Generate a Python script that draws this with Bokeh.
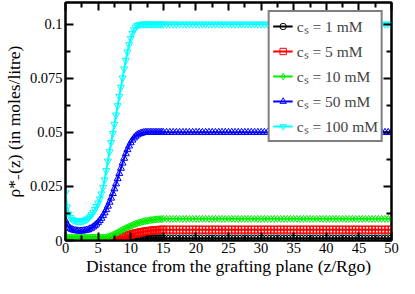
from bokeh.plotting import figure
from bokeh.models import (Range1d, LinearAxis, FixedTicker, NumeralTickFormatter,
                          CustomJSTickFormatter, Legend, LegendItem)
from bokeh.embed import file_html
from bokeh.resources import INLINE

# distance from grafting plane z/R_go: fine steps near the wall, coarser in the bulk
z_near = [0.0, 0.25, 0.5, 0.75, 1.0, 1.25, 1.5, 1.75, 2.0, 2.25, 2.5, 2.75, 3.0, 3.25, 3.5, 3.75,
          4.0, 4.25, 4.5, 4.75, 5.0, 5.25, 5.5, 5.75, 6.0, 6.25, 6.5, 6.75, 7.0, 7.25, 7.5, 7.75,
          8.0, 8.25, 8.5, 8.75, 9.0, 9.25, 9.5, 9.75, 10.0, 10.25, 10.5, 10.75, 11.0, 11.25, 11.5, 11.75,
          12.0, 12.25, 12.5, 12.75, 13.0, 13.25, 13.5, 13.75, 14.0, 14.25, 14.5, 14.75, 15.0]
z_bulk = [15.5, 16.0, 16.5, 17.0, 17.5, 18.0, 18.5, 19.0, 19.5, 20.0, 20.5, 21.0, 21.5, 22.0,
          22.5, 23.0, 23.5, 24.0, 24.5, 25.0, 25.5, 26.0, 26.5, 27.0, 27.5, 28.0, 28.5, 29.0,
          29.5, 30.0, 30.5, 31.0, 31.5, 32.0, 32.5, 33.0, 33.5, 34.0, 34.5, 35.0, 35.5, 36.0,
          36.5, 37.0, 37.5, 38.0, 38.5, 39.0, 39.5, 40.0, 40.5, 41.0, 41.5, 42.0, 42.5, 43.0,
          43.5, 44.0, 44.5, 45.0, 45.5, 46.0, 46.5, 47.0, 47.5, 48.0, 48.5, 49.0, 49.5, 50.0]
z = z_near + z_bulk

# rho*_-(z) in moles/litre, near-wall part (z = 0 ... 15)
rho_1mM_near = [0.0, 0.0, 0.0, 0.0, 0.0, 0.0, 0.0, 0.0, 0.0, 0.0, 0.0, 0.0, 0.0, 0.0, 0.0, 0.0,
                0.0, 0.0, 0.0, 0.0, 0.0, 0.0, 0.0, 0.0, 0.0, 0.0, 0.0, 0.0, 0.0, 0.00005, 0.0001, 0.0001,
                0.0002, 0.0002, 0.0003, 0.0003, 0.0004, 0.0004, 0.0005, 0.0005, 0.0006, 0.0006, 0.0007, 0.0007, 0.0008, 0.0008, 0.0008, 0.0009,
                0.0009, 0.0009, 0.0009, 0.001, 0.001, 0.001, 0.001, 0.001, 0.001, 0.001, 0.001, 0.001, 0.001]
rho_5mM_near = [0.0001, 0.0001, 0.0001, 0.0001, 0.0001, 0.0001, 0.0001, 0.0001, 0.0001, 0.0001, 0.0001, 0.0001, 0.0001, 0.0001, 0.0001, 0.0001,
                0.0001, 0.0001, 0.0001, 0.0001, 0.0001, 0.0001, 0.0001, 0.0001, 0.0001, 0.0001, 0.0002, 0.0003, 0.0004, 0.0005, 0.0007, 0.0009,
                0.0011, 0.0013, 0.0015, 0.0017, 0.0019, 0.0021, 0.0023, 0.0025, 0.0027, 0.0029, 0.0031, 0.0033, 0.0035, 0.0036, 0.0038, 0.0039,
                0.0041, 0.0042, 0.0043, 0.0044, 0.0045, 0.0046, 0.0047, 0.0047, 0.0048, 0.0049, 0.0049, 0.005, 0.005]
rho_10mM_near = [0.0016, 0.0014, 0.0014, 0.0014, 0.0014, 0.0014, 0.0014, 0.0014, 0.0014, 0.0014, 0.0014, 0.0014, 0.0014, 0.0014, 0.0014, 0.0014,
                 0.0014, 0.0014, 0.0014, 0.0014, 0.0014, 0.0014, 0.0014, 0.0014, 0.0014, 0.0015, 0.0017, 0.0019, 0.0022, 0.0025, 0.0029, 0.0033,
                 0.0037, 0.0041, 0.0045, 0.0049, 0.0053, 0.0057, 0.006, 0.0064, 0.0067, 0.007, 0.0074, 0.0077, 0.0079, 0.0082, 0.0084, 0.0086,
                 0.0088, 0.009, 0.0091, 0.0093, 0.0094, 0.0095, 0.0096, 0.0097, 0.0098, 0.0098, 0.0099, 0.0099, 0.01]
rho_50mM_near = [0.0092, 0.0072, 0.0062, 0.0055, 0.0051, 0.0048, 0.0046, 0.0045, 0.0044, 0.0044, 0.0044, 0.0045, 0.0046, 0.0048, 0.005, 0.0054,
                 0.0058, 0.0063, 0.0069, 0.0076, 0.0084, 0.0093, 0.0103, 0.0115, 0.0128, 0.0143, 0.0159, 0.0177, 0.0196, 0.0217, 0.0239, 0.0262,
                 0.0286, 0.031, 0.0334, 0.0358, 0.038, 0.0401, 0.042, 0.0437, 0.0452, 0.0464, 0.0474, 0.0482, 0.0488, 0.0492, 0.0495, 0.0497,
                 0.0499, 0.05, 0.05, 0.05, 0.05, 0.05, 0.05, 0.05, 0.05, 0.05, 0.05, 0.05, 0.05]
rho_100mM_near = [0.022, 0.0155, 0.0122, 0.0106, 0.0098, 0.0094, 0.0091, 0.009, 0.0089, 0.0089, 0.009, 0.0092, 0.0094, 0.0098, 0.0103, 0.011,
                  0.0119, 0.013, 0.0143, 0.0157, 0.0173, 0.0192, 0.0215, 0.0245, 0.028, 0.0323, 0.0367, 0.041, 0.0453, 0.0495, 0.0537, 0.058,
                  0.0623, 0.0666, 0.0708, 0.0751, 0.0793, 0.0833, 0.0871, 0.0905, 0.0934, 0.0957, 0.0974, 0.0986, 0.0993, 0.0997, 0.0999, 0.1,
                  0.1, 0.1, 0.1, 0.1, 0.1, 0.1, 0.1, 0.1, 0.1, 0.1, 0.1, 0.1, 0.1]

# bulk part (z = 15.5 ... 50): flat plateaus
rho_1mM_bulk = [0.001, 0.001, 0.001, 0.001, 0.001, 0.001, 0.001, 0.001, 0.001, 0.001, 0.001, 0.001, 0.001, 0.001,
                0.001, 0.001, 0.001, 0.001, 0.001, 0.001, 0.001, 0.001, 0.001, 0.001, 0.001, 0.001, 0.001, 0.001,
                0.001, 0.001, 0.001, 0.001, 0.001, 0.001, 0.001, 0.001, 0.001, 0.001, 0.001, 0.001, 0.001, 0.001,
                0.001, 0.001, 0.001, 0.001, 0.001, 0.001, 0.001, 0.001, 0.001, 0.001, 0.001, 0.001, 0.001, 0.001,
                0.001, 0.001, 0.001, 0.001, 0.001, 0.001, 0.001, 0.001, 0.001, 0.001, 0.001, 0.001, 0.001, 0.001]
rho_5mM_bulk = [0.005, 0.005, 0.005, 0.005, 0.005, 0.005, 0.005, 0.005, 0.005, 0.005, 0.005, 0.005, 0.005, 0.005,
                0.005, 0.005, 0.005, 0.005, 0.005, 0.005, 0.005, 0.005, 0.005, 0.005, 0.005, 0.005, 0.005, 0.005,
                0.005, 0.005, 0.005, 0.005, 0.005, 0.005, 0.005, 0.005, 0.005, 0.005, 0.005, 0.005, 0.005, 0.005,
                0.005, 0.005, 0.005, 0.005, 0.005, 0.005, 0.005, 0.005, 0.005, 0.005, 0.005, 0.005, 0.005, 0.005,
                0.005, 0.005, 0.005, 0.005, 0.005, 0.005, 0.005, 0.005, 0.005, 0.005, 0.005, 0.005, 0.005, 0.005]
rho_10mM_bulk = [0.01, 0.01, 0.01, 0.01, 0.01, 0.01, 0.01, 0.01, 0.01, 0.01, 0.01, 0.01, 0.01, 0.01,
                 0.01, 0.01, 0.01, 0.01, 0.01, 0.01, 0.01, 0.01, 0.01, 0.01, 0.01, 0.01, 0.01, 0.01,
                 0.01, 0.01, 0.01, 0.01, 0.01, 0.01, 0.01, 0.01, 0.01, 0.01, 0.01, 0.01, 0.01, 0.01,
                 0.01, 0.01, 0.01, 0.01, 0.01, 0.01, 0.01, 0.01, 0.01, 0.01, 0.01, 0.01, 0.01, 0.01,
                 0.01, 0.01, 0.01, 0.01, 0.01, 0.01, 0.01, 0.01, 0.01, 0.01, 0.01, 0.01, 0.01, 0.01]
rho_50mM_bulk = [0.05, 0.05, 0.05, 0.05, 0.05, 0.05, 0.05, 0.05, 0.05, 0.05, 0.05, 0.05, 0.05, 0.05,
                 0.05, 0.05, 0.05, 0.05, 0.05, 0.05, 0.05, 0.05, 0.05, 0.05, 0.05, 0.05, 0.05, 0.05,
                 0.05, 0.05, 0.05, 0.05, 0.05, 0.05, 0.05, 0.05, 0.05, 0.05, 0.05, 0.05, 0.05, 0.05,
                 0.05, 0.05, 0.05, 0.05, 0.05, 0.05, 0.05, 0.05, 0.05, 0.05, 0.05, 0.05, 0.05, 0.05,
                 0.05, 0.05, 0.05, 0.05, 0.05, 0.05, 0.05, 0.05, 0.05, 0.05, 0.05, 0.05, 0.05, 0.05]
rho_100mM_bulk = [0.1, 0.1, 0.1, 0.1, 0.1, 0.1, 0.1, 0.1, 0.1, 0.1, 0.1, 0.1, 0.1, 0.1,
                  0.1, 0.1, 0.1, 0.1, 0.1, 0.1, 0.1, 0.1, 0.1, 0.1, 0.1, 0.1, 0.1, 0.1,
                  0.1, 0.1, 0.1, 0.1, 0.1, 0.1, 0.1, 0.1, 0.1, 0.1, 0.1, 0.1, 0.1, 0.1,
                  0.1, 0.1, 0.1, 0.1, 0.1, 0.1, 0.1, 0.1, 0.1, 0.1, 0.1, 0.1, 0.1, 0.1,
                  0.1, 0.1, 0.1, 0.1, 0.1, 0.1, 0.1, 0.1, 0.1, 0.1, 0.1, 0.1, 0.1, 0.1]

rho_1mM = rho_1mM_near + rho_1mM_bulk
rho_5mM = rho_5mM_near + rho_5mM_bulk
rho_10mM = rho_10mM_near + rho_10mM_bulk
rho_50mM = rho_50mM_near + rho_50mM_bulk
rho_100mM = rho_100mM_near + rho_100mM_bulk

labels = ["c\u209b = 1 mM", "c\u209b = 5 mM", "c\u209b = 10 mM", "c\u209b = 50 mM", "c\u209b = 100 mM"]
series = [rho_1mM, rho_5mM, rho_10mM, rho_50mM, rho_100mM]
colors = ["black", "red", "#00ee00", "blue", "cyan"]
markers = ["circle", "square", "diamond", "triangle", "inverted_triangle"]

x_ticks = [0, 5, 10, 15, 20, 25, 30, 35, 40, 45, 50]
x_minor = [2.5, 7.5, 12.5, 17.5, 22.5, 27.5, 32.5, 37.5, 42.5, 47.5]
y_ticks = [0, 0.025, 0.05, 0.075, 0.1]
y_minor = [0.0125, 0.0375, 0.0625, 0.0875]

FONT = "Liberation Serif"

p = figure(width=399, height=278, output_backend="svg", toolbar_location=None,
           x_range=Range1d(0, 50), y_range=Range1d(0, 0.11),
           min_border_left=65, min_border_right=8, min_border_top=2, min_border_bottom=38,
           x_axis_label="Distance from the grafting plane (z/Rgo)",
           y_axis_label="\u03c1*\u208b(z) (in moles/litre)")
p.grid.visible = False
p.outline_line_color = "black"
p.outline_line_width = 2
p.background_fill_color = "white"
p.border_fill_color = "white"

p.xaxis.ticker = FixedTicker(ticks=x_ticks, minor_ticks=x_minor)
p.yaxis.ticker = FixedTicker(ticks=y_ticks, minor_ticks=y_minor)
p.yaxis.formatter = NumeralTickFormatter(format="0.[000]")

for ax in [p.xaxis[0], p.yaxis[0]]:
    ax.axis_line_width = 2
    ax.major_tick_in = 8
    ax.major_tick_out = 0
    ax.minor_tick_in = 5
    ax.minor_tick_out = 0
    ax.major_tick_line_width = 2
    ax.minor_tick_line_width = 2
    ax.major_label_text_font = FONT
    ax.major_label_text_font_size = "14.5px"
    ax.major_label_text_color = "black"
    ax.axis_label_text_font = FONT
    ax.axis_label_text_font_size = "17.5px"
    ax.axis_label_text_font_style = "normal"
    ax.axis_label_text_color = "black"
    ax.major_label_standoff = 3
    ax.axis_label_standoff = 3

p.xaxis[0].major_label_standoff = 2
p.xaxis[0].axis_label_standoff = 0

for loc, ticks, minor in [("above", x_ticks, x_minor), ("right", y_ticks, y_minor)]:
    ax = LinearAxis(ticker=FixedTicker(ticks=ticks, minor_ticks=minor),
                    formatter=CustomJSTickFormatter(code="return ''"))
    ax.axis_line_width = 2
    ax.major_tick_in = 8
    ax.major_tick_out = 0
    ax.minor_tick_in = 5
    ax.minor_tick_out = 0
    ax.major_tick_line_width = 2
    ax.minor_tick_line_width = 2
    ax.major_label_text_font_size = "0px"
    ax.major_label_standoff = 0
    p.add_layout(ax, loc)

items = []
for lab, ys, col, mk in zip(labels, series, colors, markers):
    ln = p.line(z, ys, line_color=col, line_width=2)
    sc = p.scatter(z, ys, marker=mk, size=7, line_color=col, fill_color=None, line_width=1)
    items.append(LegendItem(label=lab, renderers=[ln, sc]))

legend = Legend(items=items, location="top_right", margin=8,
                label_text_font=FONT, label_text_font_size="15.5px",
                label_height=16, glyph_height=16, glyph_width=20, spacing=3,
                padding=3, label_standoff=4,
                border_line_color="black", border_line_width=2,
                background_fill_color="white", background_fill_alpha=1)
p.add_layout(legend, "center")

open("out.html", "w").write(file_html(p, INLINE))
